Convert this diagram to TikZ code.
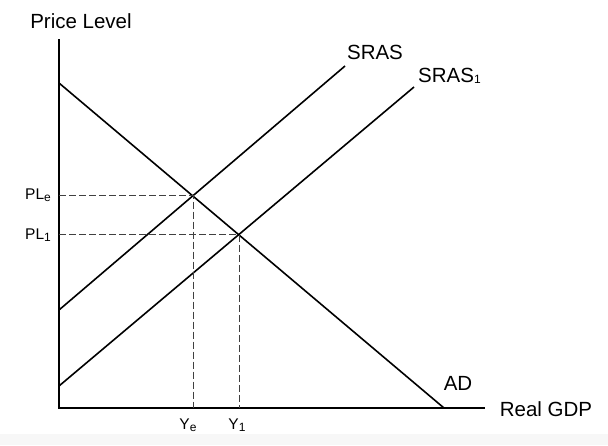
\documentclass[tikz,border=0pt]{standalone}
\usepackage{fontspec}
\setmainfont{Liberation Sans}
\begin{document}
\begin{tikzpicture}[x=1pt,y=-1pt,
  curve/.style={line width=1.6pt,black},
  guide/.style={line width=0.9pt,black!75,dash pattern=on 7pt off 3pt},
  big/.style={font=\fontsize{20.5}{20.5}\selectfont,inner sep=0pt},
  small/.style={font=\fontsize{15.5}{15.5}\selectfont,inner sep=0pt}]
\newcommand{\subsc}[1]{\raisebox{-1.5pt}{\fontsize{12}{12}\selectfont #1}}
\useasboundingbox (0,0) rectangle (608,445);
\fill[black!3] (0,434) rectangle (608,445);
% axes
\coordinate (O) at (59,408);
\coordinate (ytop) at (59,39);
\coordinate (xend) at (485,408);
\draw[curve] (ytop) -- (O) -- (xend);
% curves
\coordinate (ad1) at (59,83);
\coordinate (ad2) at (444,408);
\coordinate (s1) at (59,310);
\coordinate (s2) at (345,66);
\coordinate (t1) at (59,386);
\coordinate (t2) at (414,87);
\draw[curve] (ad1) -- (ad2);
\draw[curve] (s1) -- (s2);
\draw[curve] (t1) -- (t2);
% equilibria
\coordinate (E) at (193,195.5);
\coordinate (E1) at (239,234.8);
\coordinate (Ex) at (193,408);
\coordinate (Ey) at (59,195.5);
\coordinate (E1x) at (239,408);
\coordinate (E1y) at (59,234.8);
\draw[guide] (Ey) -- (E) -- (Ex);
\draw[guide] (E1y) -- (E1) -- (E1x);
% labels
\node[big] (pl) at (81,21) {Price Level};
\node[big] (gdp) at (546,409) {Real GDP};
\node[big] (sras) at (375,52) {SRAS};
\node[big,anchor=west] (sras1) at (418,76) {SRAS\subsc{1}};
\node[big] (ad) at (458,383) {AD};
\node[small,anchor=east] (ple) at (51,195) {PL\subsc{e}};
\node[small,anchor=east] (pl1) at (51,235) {PL\subsc{1}};
\node[small] (ye) at (188,425) {Y\subsc{e}};
\node[small] (y1) at (237,425) {Y\subsc{1}};
\end{tikzpicture}
\end{document}
